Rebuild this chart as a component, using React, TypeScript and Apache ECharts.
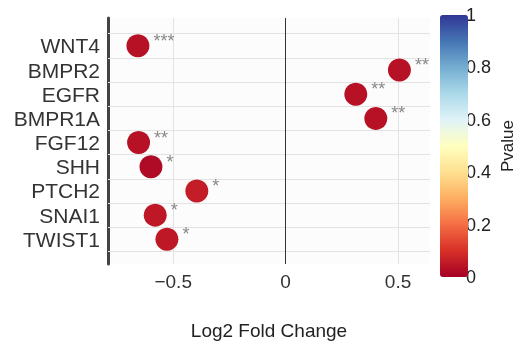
import React, { useEffect, useRef } from "react";
import * as echarts from "echarts";

const genes = ["WNT4", "BMPR2", "EGFR", "BMPR1A", "FGF12", "SHH", "PTCH2", "SNAI1", "TWIST1"];
const log2FC = [-0.657, 0.506, 0.312, 0.401, -0.654, -0.599, -0.395, -0.58, -0.528];
const pValues = [0.035, 0.035, 0.035, 0.035, 0.035, 0.02, 0.06, 0.05, 0.05];
const stars = ["***", "**", "**", "**", "**", "*", "*", "*", "*"];
const xTicks = [-0.5, 0, 0.5];
const xGrid = [-0.5, 0.5];
const colorScale = [
  "#a50026", "#d73027", "#f46d43", "#fdae61", "#fee090", "#ffffbf",
  "#e0f3f8", "#abd9e9", "#74add1", "#4575b4", "#313695",
];

const FONT = "'Liberation Sans', Arial, sans-serif";

export default function App() {
  const ref = useRef<HTMLDivElement>(null);
  useEffect(() => {
    if (!ref.current) return;
    const chart = echarts.init(ref.current, null, { renderer: "svg" });
    const data = genes.map((g, i) => ({
      value: [log2FC[i], i, pValues[i]],
      label: { formatter: stars[i] },
    }));
    const hLines = genes.map((_, i) => i - 0.5).concat([genes.length - 0.5]);
    chart.setOption({
      animation: false,
      textStyle: { fontFamily: FONT },
      grid: [
        { left: 108, top: 18, width: 322, height: 248, show: true, backgroundColor: "#fcfcfc", borderWidth: 0 },
        { left: 440, top: 15, width: 28, height: 262 },
      ],
      visualMap: {
        type: "continuous",
        min: 0,
        max: 1,
        dimension: 2,
        seriesIndex: 0,
        orient: "vertical",
        left: 440,
        top: 15,
        padding: 0,
        itemWidth: 28,
        itemHeight: 262,
        calculable: false,
        text: null,
        inRange: { color: colorScale },
      },
      xAxis: [
        {
          type: "value",
          gridIndex: 0,
          min: -0.79,
          max: 0.642,
          axisLine: { show: false, onZero: false },
          axisTick: { show: false },
          splitLine: { show: false },
          axisLabel: {
            customValues: xTicks,
            fontSize: 19,
            color: "#333",
            margin: 8,
            fontFamily: FONT,
            formatter: (v: number) => (v < 0 ? "\u2212" + Math.abs(v) : String(v)),
          },
          name: "Log2 Fold Change",
          nameLocation: "middle",
          nameGap: 57,
          nameTextStyle: { fontSize: 19, color: "#222", fontFamily: FONT },
        },
        { type: "value", gridIndex: 1, show: false, min: 0, max: 1 },
      ],
      yAxis: [
        {
          type: "value",
          gridIndex: 0,
          inverse: true,
          min: -1.15,
          max: 9.02,
          axisLine: { show: true, onZero: false, lineStyle: { color: "#444", width: 3 } },
          axisTick: { show: false },
          splitLine: { show: false },
          axisLabel: {
            customValues: genes.map((_, i) => i),
            formatter: (v: number) => genes[Math.round(v)] ?? "",
            fontSize: 21,
            color: "#333",
            margin: 8,
            fontFamily: FONT,
          },
        },
        {
          type: "value",
          gridIndex: 1,
          position: "right",
          min: 0,
          max: 1,
          interval: 0.2,
          axisLine: { show: false },
          axisTick: { show: false },
          splitLine: { show: false },
          axisLabel: {
            fontSize: 18,
            color: "#222",
            margin: 3,
            fontFamily: FONT,
            formatter: (v: number) => String(+v.toFixed(1)),
          },
          name: "Pvalue",
          nameLocation: "middle",
          nameRotate: 90,
          nameGap: 36,
          nameTextStyle: { fontSize: 17, color: "#222", fontFamily: FONT },
        },
      ],
      series: [
        {
          type: "scatter",
          xAxisIndex: 0,
          yAxisIndex: 0,
          symbolSize: 23,
          itemStyle: { opacity: 1 },
          data,
          z: 5,
          label: {
            show: true,
            position: "right",
            distance: 4,
            offset: [0, -5],
            color: "#888",
            fontSize: 18,
            fontFamily: FONT,
          },
          markLine: {
            silent: true,
            symbol: "none",
            label: { show: false },
            z: 1,
            data: [
              ...hLines.map((y) => ({ yAxis: y, lineStyle: { color: "#e3e3e3", width: 1, type: "solid" } })),
              ...xGrid.map((x) => ({ xAxis: x, lineStyle: { color: "#e3e3e3", width: 1, type: "solid" } })),
              { xAxis: 0, lineStyle: { color: "#333", width: 1, type: "solid" } },
            ],
          },
        },
      ],
    });
    return () => chart.dispose();
  }, []);
  return <div ref={ref} style={{ position: "fixed", left: 0, top: 0, width: 517, height: 345 }} />;
}
